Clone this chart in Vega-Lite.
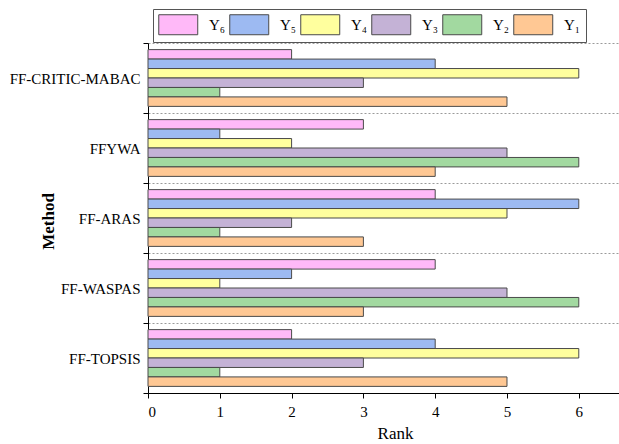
{
  "$schema": "https://vega.github.io/schema/vega-lite/v6.json",
  "width": 471,
  "height": 350,
  "autosize": {"type": "none"},
  "padding": {"left": 148, "top": 43, "right": 0, "bottom": 51},
  "background": "white",
  "config": {"font": "Liberation Serif", "view": {"stroke": null}},
  "data": {"values": [
    {"Method": "FF-CRITIC-MABAC", "Series": "Y₆", "Rank": 2},
    {"Method": "FF-CRITIC-MABAC", "Series": "Y₅", "Rank": 4},
    {"Method": "FF-CRITIC-MABAC", "Series": "Y₄", "Rank": 6},
    {"Method": "FF-CRITIC-MABAC", "Series": "Y₃", "Rank": 3},
    {"Method": "FF-CRITIC-MABAC", "Series": "Y₂", "Rank": 1},
    {"Method": "FF-CRITIC-MABAC", "Series": "Y₁", "Rank": 5},
    {"Method": "FFYWA", "Series": "Y₆", "Rank": 3},
    {"Method": "FFYWA", "Series": "Y₅", "Rank": 1},
    {"Method": "FFYWA", "Series": "Y₄", "Rank": 2},
    {"Method": "FFYWA", "Series": "Y₃", "Rank": 5},
    {"Method": "FFYWA", "Series": "Y₂", "Rank": 6},
    {"Method": "FFYWA", "Series": "Y₁", "Rank": 4},
    {"Method": "FF-ARAS", "Series": "Y₆", "Rank": 4},
    {"Method": "FF-ARAS", "Series": "Y₅", "Rank": 6},
    {"Method": "FF-ARAS", "Series": "Y₄", "Rank": 5},
    {"Method": "FF-ARAS", "Series": "Y₃", "Rank": 2},
    {"Method": "FF-ARAS", "Series": "Y₂", "Rank": 1},
    {"Method": "FF-ARAS", "Series": "Y₁", "Rank": 3},
    {"Method": "FF-WASPAS", "Series": "Y₆", "Rank": 4},
    {"Method": "FF-WASPAS", "Series": "Y₅", "Rank": 2},
    {"Method": "FF-WASPAS", "Series": "Y₄", "Rank": 1},
    {"Method": "FF-WASPAS", "Series": "Y₃", "Rank": 5},
    {"Method": "FF-WASPAS", "Series": "Y₂", "Rank": 6},
    {"Method": "FF-WASPAS", "Series": "Y₁", "Rank": 3},
    {"Method": "FF-TOPSIS", "Series": "Y₆", "Rank": 2},
    {"Method": "FF-TOPSIS", "Series": "Y₅", "Rank": 4},
    {"Method": "FF-TOPSIS", "Series": "Y₄", "Rank": 6},
    {"Method": "FF-TOPSIS", "Series": "Y₃", "Rank": 3},
    {"Method": "FF-TOPSIS", "Series": "Y₂", "Rank": 1},
    {"Method": "FF-TOPSIS", "Series": "Y₁", "Rank": 5}
  ]},
  "mark": {"type": "bar", "stroke": "#4a4a4a", "strokeWidth": 1},
  "encoding": {
    "y": {
      "field": "Method",
      "type": "nominal",
      "sort": ["FF-CRITIC-MABAC", "FFYWA", "FF-ARAS", "FF-WASPAS", "FF-TOPSIS"],
      "scale": {"paddingInner": 0, "paddingOuter": 0},
      "axis": {
        "title": "Method",
        "tickBand": "extent",
        "grid": true,
        "gridDash": [2, 2],
        "gridColor": "#9a9a9a",
        "gridWidth": 1,
        "domainColor": "#000000",
        "tickColor": "#000000",
        "tickSize": 5,
        "labelFont": "Liberation Serif",
        "labelFontSize": 15,
        "labelColor": "#000000",
        "labelPadding": 3,
        "titleFont": "Liberation Serif",
        "titleFontSize": 17,
        "titleFontWeight": "bold",
        "titleColor": "#000000",
        "titleX": -100,
        "titleY": 178,
        "titleAngle": -90,
        "titleAlign": "center",
        "titleBaseline": "middle"
      }
    },
    "yOffset": {
      "field": "Series",
      "type": "nominal",
      "sort": ["Y₆", "Y₅", "Y₄", "Y₃", "Y₂", "Y₁"],
      "scale": {"paddingInner": 0, "paddingOuter": 0.7}
    },
    "x": {
      "field": "Rank",
      "type": "quantitative",
      "scale": {"domain": [0, 6.56], "nice": false},
      "axis": {
        "title": "Rank",
        "values": [0, 1, 2, 3, 4, 5, 6],
        "grid": false,
        "domainColor": "#000000",
        "tickColor": "#000000",
        "tickSize": 5,
        "labelFont": "Liberation Serif",
        "labelFontSize": 15,
        "labelColor": "#000000",
        "labelPadding": 6,
        "titleFont": "Liberation Serif",
        "titleFontSize": 17,
        "titleFontWeight": "normal",
        "titleColor": "#000000",
        "titleX": 247,
        "titleY": 40,
        "titleAlign": "center",
        "titleBaseline": "middle"
      }
    },
    "color": {
      "field": "Series",
      "type": "nominal",
      "scale": {
        "domain": ["Y₆", "Y₅", "Y₄", "Y₃", "Y₂", "Y₁"],
        "range": ["#FFB9F8", "#9DBAF2", "#FFFF9E", "#C4B2D6", "#A2D9A0", "#FFC894"]
      },
      "legend": {
        "orient": "none",
        "legendX": 5,
        "legendY": -34,
        "direction": "horizontal",
        "columns": 6,
        "title": null,
        "symbolType": "M-1,-1.026H3V1.026H-1Z",
        "symbolSize": 380,
        "symbolStrokeColor": "#4a4a4a",
        "symbolStrokeWidth": 1,
        "labelFont": "Liberation Serif",
        "labelFontSize": 15,
        "labelColor": "#000000",
        "labelOffset": 30,
        "columnPadding": 1,
        "padding": 5,
        "strokeColor": "#555555"
      }
    }
  }
}
